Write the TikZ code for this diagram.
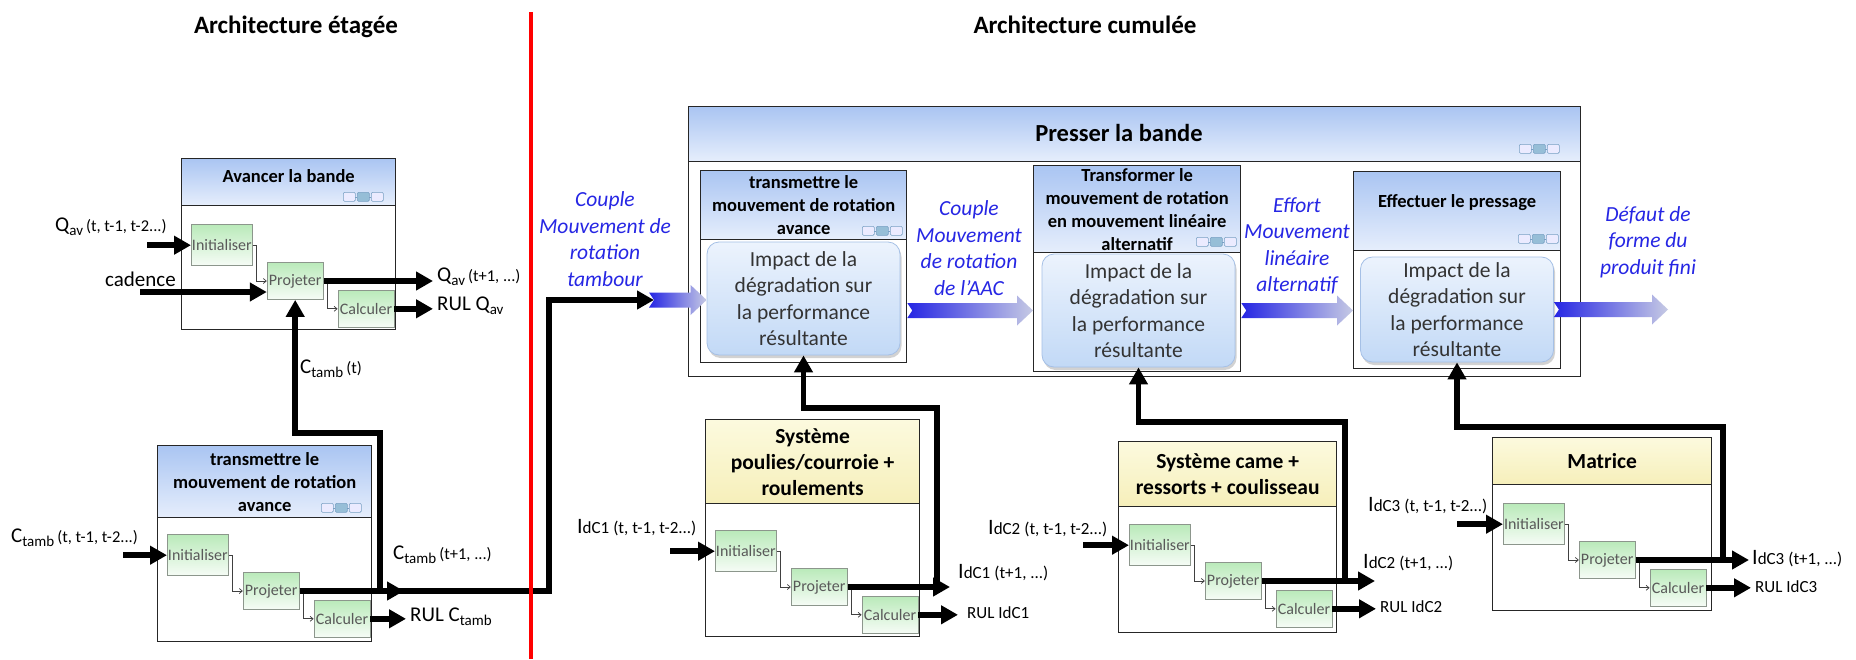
\documentclass[tikz,border=0pt]{standalone}
\usepackage{fontspec}
\setmainfont{Carlito}
\usepackage{tikz}
\usetikzlibrary{arrows.meta,positioning,calc,shadows}
\definecolor{hdtop}   {RGB}{170,197,242}
\definecolor{hdbot}   {RGB}{230,238,252}
\definecolor{ylwtop}  {RGB}{252,250,222}
\definecolor{ylwbot}  {RGB}{246,239,186}
\definecolor{blktop}  {RGB}{186,234,186}
\definecolor{blkbot}  {RGB}{246,252,246}
\definecolor{blkline} {RGB}{140,150,140}
\definecolor{imptop}  {RGB}{236,243,253}
\definecolor{impbot}  {RGB}{194,217,246}
\definecolor{impline} {RGB}{165,192,230}
\definecolor{flowblue}{RGB}{38,38,228}
\definecolor{flowfade}{RGB}{198,202,228}
\definecolor{iconline}{RGB}{120,160,195}
\definecolor{iconmid} {RGB}{150,190,215}
\newcommand{\lnkicon}[1]{%
  \begin{scope}[shift={#1}]
    \draw[icon] (-40,0) rectangle (-28,9);
    \draw[icon,fill=iconmid] (-26,0) rectangle (-14,9);
    \draw[icon] (-12,0) rectangle (0,9);
    \draw[icon] (-28,4.5) -- (-26,4.5) (-14,4.5) -- (-12,4.5);
  \end{scope}}
\newcommand{\flowarrow}[2]{%
  \shade[flowshade] let \p1=(#1), \p2=(#2) in
    (\x1,\y1+7.5pt) -- (\x2-16pt,\y1+7.5pt) -- (\x2-16pt,\y1+15pt) -- (\x2,\y1)
    -- (\x2-16pt,\y1-15pt) -- (\x2-16pt,\y1-7.5pt) -- (\x1,\y1-7.5pt)
    -- (\x1+5pt,\y1) -- cycle;}
\newcommand{\sigq}[3]{{\fontsize{21}{21}\selectfont #1}\raisebox{-4pt}{\fontsize{15}{15}\selectfont #2}\hspace{3pt}{\fontsize{16.5}{16.5}\selectfont #3}}
\newcommand{\sigi}[2]{{\fontsize{22}{22}\selectfont I}{\fontsize{17}{17}\selectfont #1\hspace{4pt}#2}}

\begin{document}
\begin{tikzpicture}[x=1pt,y=1pt,
    modbox/.style={draw=black!85,line width=1.3pt,fill=white,anchor=north west,inner sep=0pt},
    bluehead/.style={modbox,top color=hdtop,bottom color=hdbot,align=center,
                     font=\bfseries\fontsize{18.5}{23}\selectfont},
    ylwhead/.style={modbox,top color=ylwtop,bottom color=ylwbot,align=center,
                    font=\bfseries\fontsize{21.5}{26}\selectfont},
    blk/.style={draw=blkline,line width=0.8pt,top color=blktop,bottom color=blkbot,
                minimum width=56pt,minimum height=37pt,inner sep=0pt,
                font=\fontsize{16}{16}\selectfont,text=black!65},
    initblk/.style={minimum width=61pt,minimum height=41pt},
    impact/.style={rounded corners=12pt,draw=impline,line width=0.8pt,top color=imptop,
                   bottom color=impbot,align=center,inner sep=0pt,minimum width=193pt,
                   minimum height=113pt,font=\fontsize{21.5}{26.5}\selectfont,text=black!80,
                   drop shadow={shadow xshift=1.5pt,shadow yshift=-3pt,opacity=0.35}},
    lnk/.style={line width=0.7pt,draw=black!75,-{Straight Barb[length=3pt,width=5pt]}},
    fat/.style={line width=5.5pt,-{Triangle[length=17pt,width=18pt]}},
    tolbl/.style={shorten >=4pt},
    flowlbl/.style={font=\itshape\fontsize{21.5}{26.5}\selectfont,text=flowblue,align=center,inner sep=0pt},
    flowshade/.style={left color=flowblue,right color=flowfade,draw=none},
    sig/.style={anchor=west,inner sep=0pt},
    ttl/.style={font=\bfseries\fontsize{25}{29}\selectfont,inner sep=0pt},
    divider/.style={draw=red,line width=4.5pt},
    icon/.style={draw=iconline,line width=0.6pt,fill=white!92!blue,rounded corners=1.2pt}
  ]
  \fill[white] (0,0) rectangle (1856,-659);
  \useasboundingbox (0,0) rectangle (1856,-659);

  % titles
  \node[ttl] (tEt) at (296,-27)  {Architecture étagée};
  \node[ttl] (tCu) at (1085,-25) {Architecture cumulée};

  % ---- Avancer la bande
  \node[modbox,minimum width=214pt,minimum height=171pt] (aB) at (181,-158) {};
  \node[bluehead,minimum width=214pt,minimum height=47pt,text depth=13pt] (aH) at (181,-158) {Avancer la bande};
  \lnkicon{($(aH.south east)+(-13,5)$)}
  \node[blk,initblk,below right=18pt and 10pt of aH.south west] (aI) {Initialiser};
  \node[blk,below right=-4pt and 14pt of aI] (aP) {Projeter};
  \node[blk,below right=-10pt and 14pt of aP] (aC) {Calculer};
  \draw[lnk] (aI.east) -- ++(4,0) |- (aP.west);
  \draw[lnk] (aP.east) -- ++(4,0) |- (aC.west);

  % ---- transmettre (étagée)
  \node[modbox,minimum width=214pt,minimum height=196pt] (bB) at (157,-445) {};
  \node[bluehead,minimum width=214pt,minimum height=72pt] (bH) at (157,-445) {transmettre le\\mouvement de rotation\\avance};
  \lnkicon{($(bH.south east)+(-11,6)$)}
  \node[blk,initblk,below right=16pt and 10pt of bH.south west] (bI) {Initialiser};
  \node[blk,below right=-4pt and 14pt of bI] (bP) {Projeter};
  \node[blk,below right=-10pt and 14pt of bP] (bC) {Calculer};
  \draw[lnk] (bI.east) -- ++(4,0) |- (bP.west);
  \draw[lnk] (bP.east) -- ++(4,0) |- (bC.west);

  % ---- Presser la bande
  \node[modbox,minimum width=892pt,minimum height=270pt] (pB) at (688,-106) {};
  \node[bluehead,minimum width=892pt,minimum height=55pt] (pH) at (688,-106) {};
  \node[font=\bfseries\fontsize{24.5}{28}\selectfont,inner sep=0pt] (pT) at (1119,-133) {Presser la bande};
  \lnkicon{($(pH.south east)+(-22,9)$)}

  \node[modbox,minimum width=206pt,minimum height=192pt] (s1B) at (700,-170) {};
  \node[bluehead,minimum width=206pt,minimum height=69pt] (s1H) at (700,-170) {transmettre le\\mouvement de rotation\\avance};
  \lnkicon{($(s1H.south east)+(-5,5)$)}
  \node[modbox,minimum width=207pt,minimum height=206pt] (s2B) at (1033,-165) {};
  \node[bluehead,minimum width=207pt,minimum height=87pt] (s2H) at (1033,-165) {Transformer le\\mouvement de rotation\\en mouvement linéaire\\alternatif};
  \lnkicon{($(s2H.south east)+(-5,7)$)}
  \node[modbox,minimum width=207pt,minimum height=197pt] (s3B) at (1353,-171) {};
  \node[bluehead,minimum width=207pt,minimum height=79pt,text depth=20pt] (s3H) at (1353,-171) {Effectuer le pressage};
  \lnkicon{($(s3H.south east)+(-3,8)$)}

  \node[impact] (i1) at (803.5,-298.5) {Impact de la\\dégradation sur\\la performance\\résultante};
  \node[impact] (i2) at (1138.5,-310.5) {Impact de la\\dégradation sur\\la performance\\résultante};
  \node[impact,minimum height=105pt] (i3) at (1457,-309.5) {Impact de la\\dégradation sur\\la performance\\résultante};

  % flux
  \coordinate (tbs) at (649,-300);
  \coordinate (dfo) at (1668,-305);
  \flowarrow{tbs}{i1.west}
  \flowarrow{s1B.east |- i2.west}{s2B.west}
  \flowarrow{s2B.east |- i2.east}{s3B.west}
  \flowarrow{i3.east}{dfo}
  \node[flowlbl] (fTb)  at (605,-239)  {Couple\\Mouvement de\\rotation\\tambour};
  \node[flowlbl] (fAac) at (969,-248)  {Couple\\Mouvement\\de rotation\\de l’AAC};
  \node[flowlbl] (fEff) at (1297,-246) {Effort\\Mouvement\\linéaire\\alternatif};
  \node[flowlbl] (fDef) at (1648,-242) {Défaut de\\forme du\\produit fini};

  % ---- composants
  \node[modbox,minimum width=214pt,minimum height=217pt] (cB) at (705,-419) {};
  \node[ylwhead,minimum width=214pt,minimum height=84pt] (cH) at (705,-419) {Système\\poulies/courroie +\\roulements};
  \node[blk,initblk,below right=26pt and 10pt of cH.south west] (cI) {Initialiser};
  \node[blk,below right=-4pt and 14pt of cI] (cP) {Projeter};
  \node[blk,below right=-10pt and 14pt of cP] (cC) {Calculer};
  \draw[lnk] (cI.east) -- ++(4,0) |- (cP.west);
  \draw[lnk] (cP.east) -- ++(4,0) |- (cC.west);

  \node[modbox,minimum width=218pt,minimum height=191pt] (dB) at (1118,-441) {};
  \node[ylwhead,minimum width=218pt,minimum height=65pt] (dH) at (1118,-441) {Système came +\\ressorts + coulisseau};
  \node[blk,initblk,below right=17pt and 11pt of dH.south west] (dI) {Initialiser};
  \node[blk,below right=-4pt and 14pt of dI] (dP) {Projeter};
  \node[blk,below right=-10pt and 14pt of dP] (dC) {Calculer};
  \draw[lnk] (dI.east) -- ++(4,0) |- (dP.west);
  \draw[lnk] (dP.east) -- ++(4,0) |- (dC.west);

  \node[modbox,minimum width=219pt,minimum height=173pt] (eB) at (1492,-437) {};
  \node[ylwhead,minimum width=219pt,minimum height=47pt] (eH) at (1492,-437) {Matrice};
  \node[blk,initblk,below right=18pt and 11pt of eH.south west] (eI) {Initialiser};
  \node[blk,below right=-4pt and 14pt of eI] (eP) {Projeter};
  \node[blk,below right=-10pt and 14pt of eP] (eC) {Calculer};
  \draw[lnk] (eI.east) -- ++(4,0) |- (eP.west);
  \draw[lnk] (eP.east) -- ++(4,0) |- (eC.west);

  % ---- signaux étagée
  \coordinate (aQs) at (147,-243);
  \coordinate (aCs) at (140,-292);
  \node[sig] (aQin)  at (55,-227)  {\sigq{Q}{av}{(t, t-1, t-2...)}};
  \node[sig] (aCad)  at (105,-279) {\fontsize{21}{21}\selectfont cadence};
  \node[sig] (aQout) at (437,-277) {\sigq{Q}{av}{(t+1, ...)}};
  \node[sig] (aRul)  at (437,-306) {\sigq{RUL Q}{av}{}};
  \node[sig] (aCt)   at (300,-369) {\sigq{C}{tamb}{(t)}};
  \draw[fat] (aI.west -| aQs) -- (aI.west);
  \draw[fat] (aCs) -- (aP.west |- aCs);
  \draw[fat,tolbl] (aP.east) -- (aP.east -| aQout.west);
  \draw[fat,tolbl] (aC.east) -- (aC.east -| aRul.west);

  \coordinate (bCs) at (123,-553);
  \coordinate (bPo) at (404,-588);
  \coordinate (bFb) at (380,-433);
  \coordinate (tbk) at (549,-300);
  \coordinate (tbt) at (654,-300);
  \node[sig] (bCin)  at (11,-538)  {\sigq{C}{tamb}{(t, t-1, t-2...)}};
  \node[sig] (bCout) at (393,-555) {\sigq{C}{tamb}{(t+1, ...)}};
  \node[sig] (bRul)  at (410,-617) {\sigq{RUL C}{tamb}{}};
  \draw[fat] (bI.west -| bCs) -- (bI.west);
  \draw[fat] (bP.east) -- (bP.east -| bPo);
  \draw[fat] (bP.east) -| (tbk) -- (tbt);
  \draw[fat] (bP.east -| bFb) |- (aP.south |- bFb) -- (aP.south);
  \draw[fat,tolbl] (bC.east) -- (bC.east -| bRul.west);

  % ---- signaux cumulée
  \coordinate (cIs) at (670,-548);
  \coordinate (cPo) at (950,-584);
  \coordinate (cFb) at (937,-408);
  \node[sig] (cIin)  at (577,-528) {\sigi{dC1}{(t, t-1, t-2...)}};
  \node[sig] (cIout) at (958,-573) {\sigi{dC1}{(t+1, ...)}};
  \node[sig,font=\fontsize{17}{17}\selectfont] (cRul) at (967,-613) {RUL IdC1};
  \draw[fat] (cI.west -| cIs) -- (cI.west);
  \draw[fat] (cP.east) -- (cP.east -| cPo);
  \draw[fat] (cP.east -| cFb) |- (i1.south |- cFb) -- (i1.south);
  \draw[fat,shorten >=9pt] (cC.east) -- (cC.east -| cRul.west);

  \coordinate (dIs) at (1083,-544);
  \coordinate (dPo) at (1375,-579);
  \coordinate (dFb) at (1345,-422);
  \node[sig] (dIin)  at (988,-529)  {\sigi{dC2}{(t, t-1, t-2...)}};
  \node[sig] (dIout) at (1363,-563) {\sigi{dC2}{(t+1, ...)}};
  \node[sig,font=\fontsize{17}{17}\selectfont] (dRul) at (1380,-607) {RUL IdC2};
  \draw[fat] (dI.west -| dIs) -- (dI.west);
  \draw[fat] (dP.east) -- (dP.east -| dPo);
  \draw[fat] (dP.east -| dFb) |- (i2.south |- dFb) -- (i2.south);
  \draw[fat,tolbl] (dC.east) -- (dC.east -| dRul.west);

  \coordinate (eIs) at (1457,-524);
  \coordinate (ePo) at (1749,-558);
  \coordinate (eFb) at (1723,-427);
  \node[sig] (eIin)  at (1368,-506) {\sigi{dC3}{(t, t-1, t-2...)}};
  \node[sig] (eIout) at (1752,-559) {\sigi{dC3}{(t+1, ...)}};
  \node[sig,font=\fontsize{17}{17}\selectfont] (eRul) at (1755,-587) {RUL IdC3};
  \draw[fat] (eI.west -| eIs) -- (eI.west);
  \draw[fat] (eP.east) -- (eP.east -| ePo);
  \draw[fat] (eP.east -| eFb) |- (i3.south |- eFb) -- (i3.south);
  \draw[fat,tolbl] (eC.east) -- (eC.east -| eRul.west);

  % separation
  \draw[divider] (531,-12) -- (531,-659);
\end{tikzpicture}
\end{document}
